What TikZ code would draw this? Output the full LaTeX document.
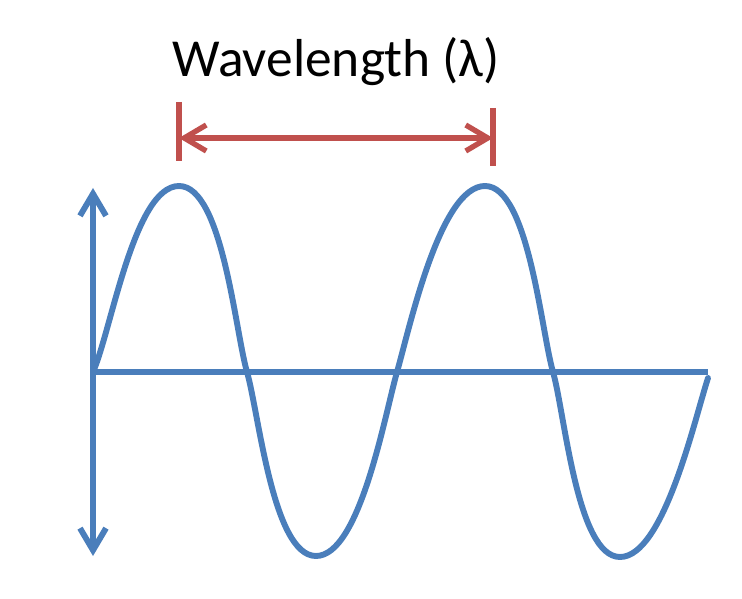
\documentclass[tikz,border=0pt]{standalone}
\usepackage{fontspec}
\setmainfont{Carlito}
\usetikzlibrary{arrows.meta, positioning}

\definecolor{waveblue}{RGB}{74,126,187}
\definecolor{dimred}{RGB}{192,80,77}

\begin{document}
\begin{tikzpicture}[
        x=0.025cm, y=0.025cm,
        % --- Style Definitions ---
        wave/.style={draw=waveblue, line width=4.2pt, line cap=round, line join=round, looseness=0.56},
        axis_line/.style={draw=waveblue, line width=4.2pt},
        axis_arrow/.style={axis_line, {Straight Barb[length=5.5mm, width=6.5mm]}-{Straight Barb[length=5.5mm, width=6.5mm]}},
        dim_tick/.style={draw=dimred, line width=3.8pt},
        dim_arrow/.style={draw=dimred, line width=3.8pt, {Straight Barb[length=5.5mm, width=6.5mm]}-{Straight Barb[length=5.5mm, width=6.5mm]}},
        title/.style={font=\fontsize{38}{46}\selectfont, text=black}
    ]

        \useasboundingbox (0,0) rectangle (742,598);

        % --- Key Points of the Wave ---
        \coordinate (origin) at (93,226);
        \coordinate (peak_a)   at (179,412);
        \coordinate (zero_a)   at (247,226);
        \coordinate (trough_a) at (316,42);
        \coordinate (zero_b)   at (397,226);
        \coordinate (peak_b)   at (485,412);
        \coordinate (zero_c)   at (553,226);
        \coordinate (trough_b) at (620,41);
        \coordinate (wave_end) at (708,220);

        % --- Axes ---
        \coordinate (axis_end) at (708,226);
        \coordinate (amp_top)  at (93,410);
        \coordinate (amp_bot)  at (93,42);
        \draw[axis_line] (origin) -- (axis_end);
        \draw[axis_arrow] (amp_bot) -- (amp_top);

        % --- Wave ---
        \draw[wave] (origin) to[out=66, in=180] (peak_a)
            to[out=0, in=106] (zero_a)
            to[out=-74, in=180] (trough_a)
            to[out=0, in=-106] (zero_b)
            to[out=74, in=180] (peak_b)
            to[out=0, in=106] (zero_c)
            to[out=-74, in=180] (trough_b)
            to[out=0, in=-108] (wave_end);

        % --- Wavelength Dimension ---
        \coordinate (tick_a_top) at (179,496);
        \coordinate (tick_a_bot) at (179,437);
        \coordinate (tick_b_top) at (493,490);
        \coordinate (tick_b_bot) at (493,432);
        \coordinate (dim_a) at (179,460);
        \coordinate (dim_b) at (493,460);
        \draw[dim_tick] (tick_a_top) -- (tick_a_bot);
        \draw[dim_tick] (tick_b_top) -- (tick_b_bot);
        \draw[dim_arrow] (dim_a) -- (dim_b);

        \node[title] (wl_label) at (336,536) {Wavelength (λ)};

    \end{tikzpicture}
\end{document}
